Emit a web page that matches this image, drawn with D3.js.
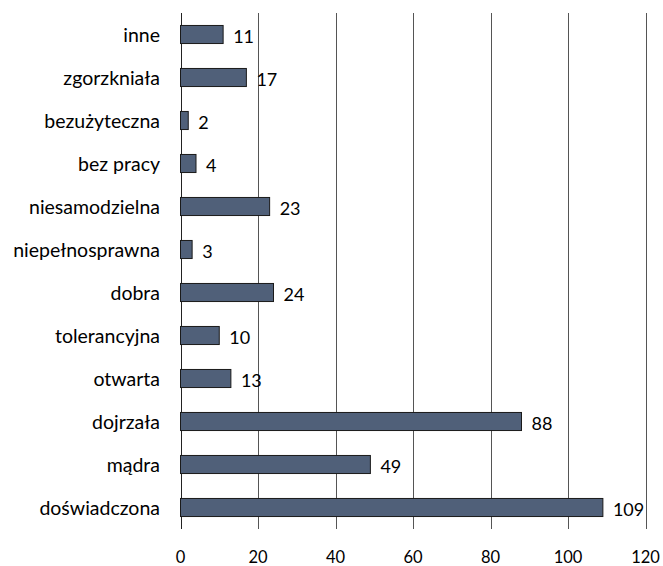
<!DOCTYPE html>
<html><head><meta charset="utf-8">
<script src="https://cdn.jsdelivr.net/npm/d3@7"></script>
<style>body{margin:0;background:#fff}svg{display:block}text{font-family:Lato,"Open Sans",sans-serif;fill:#000}</style>
</head><body>
<svg id="c" width="663" height="566"></svg>
<script>
const categories = ["inne","zgorzkniała","bezużyteczna","bez pracy","niesamodzielna","niepełnosprawna","dobra","tolerancyjna","otwarta","dojrzała","mądra","doświadczona"];
const values = [11,17,2,4,23,3,24,10,13,88,49,109];
const ticks = [0,20,40,60,80,100,120];

const svg = d3.select("#c");
const x = d3.scaleLinear().domain([0,120]).range([180.5,645.5]);
const y = d3.scaleBand().domain(categories).range([13,529]).paddingInner(0.58).paddingOuter(0.29);

// gridlines
svg.append("g").selectAll("line").data(ticks).join("line")
  .attr("x1", d=>Math.round(x(d))+0.5).attr("x2", d=>Math.round(x(d))+0.5)
  .attr("y1", 13).attr("y2", 529)
  .attr("stroke", d=> d===0 ? "#222" : "#555").attr("stroke-width",1);

// tick labels
svg.append("g").selectAll("text").data(ticks).join("text")
  .attr("x", d=>x(d)).attr("y", 563).attr("text-anchor","middle")
  .style("font-size","16.5px").text(d=>d);

const data = categories.map((c,i)=>({c, v: values[i]}));

svg.append("g").selectAll("rect").data(data).join("rect")
  .attr("x", x(0)).attr("y", d=>y(d.c)).attr("width", d=>x(d.v)-x(0)).attr("height", y.bandwidth())
  .attr("fill","#506079").attr("stroke","#1a1a1a").attr("stroke-width",1);

// category labels
svg.append("g").selectAll("text").data(data).join("text")
  .attr("x", 160).attr("y", d=>y(d.c)+y.bandwidth()/2).attr("text-anchor","end").attr("dominant-baseline","central")
  .style("font-size","19.5px").text(d=>d.c);

// value labels
svg.append("g").selectAll("text").data(data).join("text")
  .attr("x", d=>x(d.v)+10).attr("y", d=>y(d.c)+y.bandwidth()/2+1).attr("dominant-baseline","central")
  .style("font-size","18px").text(d=>d.v);
</script>
</body></html>
